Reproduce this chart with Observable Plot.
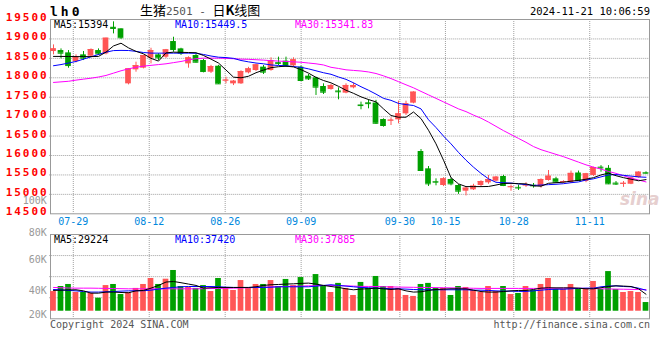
<!DOCTYPE html>
<html><head><meta charset="utf-8">
<script src="https://cdn.jsdelivr.net/npm/d3@7"></script>
<script src="https://cdn.jsdelivr.net/npm/@observablehq/plot@0.6"></script>
<style>
html,body{margin:0;padding:0;background:#fff;}
#wrap{position:relative;width:660px;height:360px;overflow:hidden;font-family:"DejaVu Sans Mono",monospace;}
.t{position:absolute;white-space:pre;line-height:1;font-size:10px;}
#price,#vol{position:absolute;left:0;}
#price{top:0px}
#vol{top:190px}
#price g[aria-label="y-axis tick label"]{letter-spacing:2px;}
</style></head><body>
<div id="wrap">
<div id="price"></div><div id="vol"></div>
<div class="t" style="left:50px;top:5px;font-weight:bold;font-size:13px;letter-spacing:3px;">lh0</div>
<div class="t" style="left:140px;top:3px;font-size:13px;font-family:'Noto Sans CJK SC',sans-serif;">生猪<span style="font-family:'DejaVu Sans Mono';font-size:11px;color:#555">2501 - </span>日<b>K</b>线图</div>
<div class="t" style="right:10px;top:6px;font-size:10.5px;">2024-11-21 10:06:59</div>
<div class="t" style="left:54px;top:20px;color:#000">MA5:15394</div>
<div class="t" style="left:175px;top:20px;color:#0000ff">MA10:15449.5</div>
<div class="t" style="left:295px;top:20px;color:#ff00ff">MA30:15341.83</div>
<div class="t" style="left:54px;top:235px;color:#000">MA5:29224</div>
<div class="t" style="left:175px;top:235px;color:#0000ff">MA10:37420</div>
<div class="t" style="left:295px;top:235px;color:#ff00ff">MA30:37885</div>
<div class="t" style="left:50px;top:320px;color:#555;font-size:10px;">Copyright 2024 SINA.COM</div>
<div class="t" style="right:10px;top:320px;color:#555;font-size:10px;">http://finance.sina.com.cn</div>
<div class="t" style="left:620px;top:191px;color:#e6cfcf;font-size:17px;font-style:italic;font-weight:bold;font-family:'DejaVu Sans',sans-serif;">sina</div>
</div>
<script>
const dates = ["07-24","07-25","07-26","07-29","07-30","07-31","08-01","08-02","08-05","08-06","08-07","08-08","08-09","08-12","08-13","08-14","08-15","08-16","08-19","08-20","08-21","08-22","08-23","08-26","08-27","08-28","08-29","08-30","09-02","09-03","09-04","09-05","09-06","09-09","09-10","09-11","09-12","09-13","09-18","09-19","09-20","09-23","09-24","09-25","09-26","09-27","09-30","10-08","10-09","10-10","10-11","10-14","10-15","10-16","10-17","10-18","10-21","10-22","10-23","10-24","10-25","10-28","10-29","10-30","10-31","11-01","11-04","11-05","11-06","11-07","11-08","11-11","11-12","11-13","11-14","11-15","11-18","11-19","11-20","11-21"];
const open  = [18676,18701,18641,18418,18590,18556,18701,18616,19300,19260,17844,18204,18247,18504,18590,18530,18933,18744,18358,18573,18444,18144,18298,17920,17844,17844,18127,18187,18274,18188,18390,18428,18308,18274,18042,17999,17776,17699,17660,17605,17742,17300,17355,17350,16926,16890,16918,17072,17347,16103,15657,15330,15228,15383,15228,15082,15117,15228,15297,15340,15460,15180,15180,15225,15235,15202,15357,15400,15300,15300,15550,15330,15486,15700,15670,15290,15260,15260,15430,15560];
const high  = [18847,18744,18701,18590,18676,18744,18744,19019,19440,19260,18230,18401,18580,18760,18620,18730,19044,18760,18540,18600,18470,18320,18320,18015,17930,18180,18270,18350,18317,18514,18531,18531,18514,18300,18085,18016,17845,17830,17742,17845,17862,17373,17433,17420,16944,16970,17398,17398,17640,16155,15717,15400,15430,15420,15250,15200,15260,15350,15486,15460,15490,15240,15240,15300,15280,15400,15614,15440,15350,15600,15600,15540,15700,15740,15740,15330,15330,15420,15580,15580];
const low   = [18590,18487,18247,18384,18444,18530,18573,18590,19130,18990,17818,18144,18230,18358,18444,18500,18658,18573,18247,18380,18127,18110,17830,17844,17800,17830,18100,18160,18085,18170,18317,18274,18274,17913,17930,17545,17570,17680,17433,17588,17716,17176,17202,16800,16730,16772,16815,17030,17330,15597,15203,15220,15200,15220,15000,14960,15100,15200,15260,15320,15200,15080,15100,15180,15160,15160,15340,15300,15280,15280,15340,15300,15460,15571,15250,15230,15180,15250,15420,15520];
const close = [18744,18633,18315,18530,18504,18727,18616,19019,19270,19030,18230,18315,18573,18701,18513,18718,18727,18633,18513,18401,18161,18290,17844,17940,17912,18161,18230,18333,18145,18445,18370,18300,18462,17930,17973,17759,17630,17802,17640,17802,17802,17285,17335,16830,16772,16910,17072,17330,17630,15614,15271,15314,15400,15271,15082,15160,15211,15331,15383,15443,15228,15195,15165,15240,15220,15383,15468,15314,15330,15540,15357,15528,15690,15680,15271,15265,15285,15420,15571,15545];
const ma5  = [18550,18550,18548,18545,18545,18545,18550,18660,18820,18890,18770,18680,18617,18500,18430,18640,18660,18655,18650,18645,18574,18480,18380,18200,18016,18000,18040,18130,18200,18260,18285,18300,18280,18210,18120,18010,17930,17870,17780,17680,17600,17510,17440,17380,17200,17030,16985,16985,17120,16950,16650,16300,15880,15430,15270,15200,15200,15200,15203,15240,15280,15285,15275,15270,15220,15210,15285,15300,15314,15340,15360,15390,15430,15500,15546,15480,15430,15390,15350,15380];
const ma10 = [18310,18340,18380,18420,18480,18540,18600,18660,18700,18705,18702,18680,18650,18635,18634,18634,18634,18634,18634,18630,18600,18560,18530,18520,18500,18445,18410,18380,18360,18330,18317,18310,18290,18270,18230,18180,18130,18090,18020,17960,17870,17770,17680,17580,17470,17420,17340,17310,17287,17200,16920,16720,16500,16300,16080,15880,15700,15540,15400,15310,15300,15290,15270,15250,15230,15240,15250,15260,15275,15300,15320,15370,15400,15450,15500,15510,15490,15470,15450,15440];
const ma30 = [17880,17895,17910,17940,17965,17990,18020,18060,18120,18180,18230,18270,18300,18320,18340,18360,18390,18420,18460,18490,18505,18505,18505,18500,18490,18480,18475,18465,18455,18440,18430,18420,18410,18400,18380,18360,18330,18270,18240,18205,18190,18175,18150,18110,18050,17980,17900,17820,17742,17650,17560,17470,17380,17290,17200,17130,17040,16960,16860,16750,16640,16540,16440,16340,16230,16150,16090,16030,15970,15900,15830,15760,15700,15650,15590,15540,15480,15420,15370,15320];
const volume = [39000,42700,44200,38300,38300,37600,34100,43400,44200,36800,38300,41300,44200,48600,44200,48100,54500,42700,42000,41300,43400,39000,48600,41300,39800,47100,41300,44200,44200,47100,42700,47900,43400,49300,40500,51500,43400,38300,45000,41300,36100,45700,41300,50100,42700,42700,41300,36100,35400,44200,45000,41300,41300,36100,42700,42000,39800,38300,42700,39000,42700,36800,37600,42700,39800,44200,48600,40500,40500,44200,40500,40500,46400,40500,53700,40500,38300,39000,38300,30900];
const volMa5  = [39800,40000,40200,40300,39500,37800,37800,38600,38600,38300,38100,39500,39800,41500,43500,46000,46400,45500,44500,43500,41500,41800,42000,42000,42000,42000,42000,42500,43500,44000,44200,44500,44700,45000,45200,44500,43500,42700,42000,41000,40300,40800,41100,41500,41000,40500,41000,39500,38600,38800,39800,40500,40800,41000,41000,41000,40000,39000,38600,38600,39000,39500,39800,39800,40500,41500,41800,41700,41700,41700,41500,41000,41000,41800,42700,43200,43000,42700,41000,37000];
const volMa10 = [40500,40200,39800,39500,39000,38600,38600,38800,39000,39300,39500,39600,39600,40000,40800,41500,42000,42500,42700,42700,42700,42700,42500,42200,42000,42000,42000,42000,42000,42200,42500,42500,42500,42500,42500,43000,43500,44000,43500,43000,42500,42000,41800,41500,41300,41000,41000,40800,40500,40300,40300,40300,40300,40300,40300,40300,40000,40000,39800,39500,39300,39300,39100,39100,39500,40000,40500,40700,40700,41000,41300,41500,41500,42500,43000,43200,42700,42500,41500,40000];
const volMa30 = [42000,41800,41600,41500,41500,41500,41400,41300,41200,41100,41000,41000,41000,41000,41000,41000,41000,41000,41000,41000,41100,41200,41300,41400,41500,41600,41800,42000,42200,42400,42500,42700,42900,43000,43200,43300,43400,43500,43300,43200,43000,42800,42750,42700,42500,42400,42300,42200,42100,42000,42000,41900,41800,41700,41600,41500,41400,41300,41300,41300,41300,41300,41300,41300,41300,41300,41400,41400,41500,41500,41400,41300,41200,41000,40900,40800,40700,40600,40500,40400];
const tickDates = ["07-29","08-12","08-26","09-09","09-30","10-15","10-28","11-11"];
const priceTicks = [14500,15000,15500,16000,16500,17000,17500,18000,18500,19000,19500];
const priceGrid = [15000,15500,16000,16500,17000,17500,18000,18500,19000];
const volTicksUpper = [60000,80000];
const volTick40 = [40000];
const volTick20 = [20000];
const volTick100 = [100000];

const RED = "#ff5555", GREEN = "#00a000", GRID = "#a0a0a0", FRAME = "#999999";
const candles = dates.map((d, i) => ({date: d, open: open[i], high: high[i], low: low[i], close: close[i],
  ma5: ma5[i], ma10: ma10[i], ma30: ma30[i], vol: volume[i], vma5: volMa5[i], vma10: volMa10[i], vma30: volMa30[i],
  up: close[i] >= open[i]}));
const col = d => d.up ? RED : GREEN;
const FONT = "DejaVu Sans Mono";
const dash = {stroke: GRID, strokeOpacity: 1, strokeDasharray: "1,1"};
// date gridlines are laid out on a slightly wider step than the candles
const STEP = 7.5, GSTEP = 600 / 79;
const gridDx = d => -3 + dates.indexOf(d) * (GSTEP - STEP);
const gridMarks = () => tickDates.map(d => Plot.gridX([d], {...dash, dx: gridDx(d)}));
const dateLabels = () => tickDates.map(d => Plot.axisX([d], {anchor: "bottom", tickSize: 0, tickPadding: 4, dx: gridDx(d), fill: "#0088dd", fontSize: 10, fontFamily: FONT, label: null}));
const ML = 49.25, MR = 660 - 649.25;

const price = Plot.plot({
  width: 660, height: 232, marginTop: 19, marginBottom: 18.7, marginLeft: ML, marginRight: MR,
  style: {background: "transparent", overflow: "visible", fontFamily: FONT},
  x: {type: "band", domain: dates, padding: 0, axis: null},
  y: {domain: [14500, 19500], axis: null},
  marks: [
    Plot.gridY(priceGrid, dash),
    ...gridMarks(),
    Plot.frame({stroke: FRAME, insetLeft: 0.75, insetRight: 0.25}),
    Plot.ruleX(candles, {x: "date", y1: "low", y2: "high", stroke: col}),
    Plot.barY(candles, {x: "date", y1: "open", y2: "close", fill: col, insetLeft: 0.9, insetRight: 0.9}),
    Plot.tickY(candles, {x: "date", y: "close", stroke: col, insetLeft: 0.9, insetRight: 0.9}),
    Plot.line(candles, {x: "date", y: "ma30", stroke: "#ff00ff", strokeWidth: 1}),
    Plot.line(candles, {x: "date", y: "ma10", stroke: "#0000ff", strokeWidth: 1}),
    Plot.line(candles, {x: "date", y: "ma5", stroke: "#000000", strokeWidth: 1}),
    Plot.axisY(priceTicks, {anchor: "left", tickSize: 0, tickPadding: 1, dy: -2, fill: "#ff0000", fontWeight: "bold", fontSize: 11, fontFamily: FONT, tickFormat: d => String(d), label: null}),
    ...dateLabels()
  ]
});
document.getElementById("price").append(price);

const vTop = 234, vBot = 318.3, vMidY = 276.1, vSlope = 1.358; // px per 1K
const volDomain = [50000 - (vBot - vMidY) / vSlope * 1000, 50000 + (vMidY - vTop) / vSlope * 1000];
const volBase = 24500;
const volGrid = [1, 2, 3].map(k => volDomain[0] + (volDomain[1] - volDomain[0]) * k / 4);
const volAxis = (ticks, dy) => Plot.axisY(ticks, {anchor: "left", tickSize: 0, tickPadding: 3, dy, fill: "#999999", fontSize: 10, fontFamily: FONT, tickFormat: d => (d / 1000) + "K", label: null});
const vol = Plot.plot({
  width: 660, height: 140, marginTop: vTop - 190, marginBottom: 190 + 140 - vBot, marginLeft: ML, marginRight: MR,
  style: {background: "transparent", overflow: "visible", fontFamily: FONT},
  x: {type: "band", domain: dates, padding: 0, axis: null},
  y: {domain: volDomain, axis: null},
  marks: [
    Plot.gridY(volGrid, dash),
    ...gridMarks(),
    Plot.frame({stroke: FRAME, insetLeft: 0.75, insetRight: 0.25}),
    Plot.barY(candles, {x: "date", y1: volBase, y2: "vol", fill: col, insetLeft: 0.9, insetRight: 0.9}),
    Plot.line(candles, {x: "date", y: "vma30", stroke: "#ff00ff", strokeWidth: 1}),
    Plot.line(candles, {x: "date", y: "vma10", stroke: "#0000ff", strokeWidth: 1}),
    Plot.line(candles, {x: "date", y: "vma5", stroke: "#000000", strokeWidth: 1}),
    volAxis(volTicksUpper, -3),
    volAxis(volTick40, 1),
    volAxis(volTick20, -3),
    volAxis(volTick100, -7.5)
  ]
});
document.getElementById("vol").append(vol);
</script>
</body></html>
